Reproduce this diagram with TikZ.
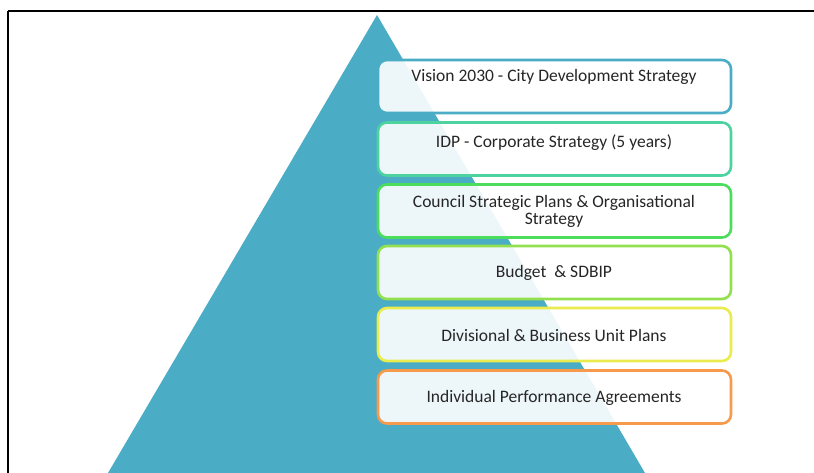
\documentclass[tikz,border=0pt]{standalone}
\usepackage{fontspec}
\setmainfont{Carlito}
\definecolor{teal}{HTML}{4BACC6}
\definecolor{c1}{HTML}{4BACC6}
\definecolor{c2}{HTML}{4DD3A0}
\definecolor{c3}{HTML}{4CDD5C}
\definecolor{c4}{HTML}{92E050}
\definecolor{c5}{HTML}{E9EC4C}
\definecolor{c6}{HTML}{F79A4C}
\definecolor{txt}{HTML}{262626}
\begin{document}
\begin{tikzpicture}[x=1pt,y=-1pt,
  tierbox/.style={draw=#1, line width=2.6pt, rounded corners=9pt, fill=white, fill opacity=0.9,
    minimum width=353pt, minimum height=53pt, inner sep=0pt},
  tiertext/.style={text=txt, font=\fontsize{17.5}{17}\selectfont, align=center, inner sep=0pt}]
\useasboundingbox (0,0) rectangle (814,473);
\begin{scope}
\clip (0,0) rectangle (814,473);
\draw[line width=2pt] (8,11) -- (820,11);
\draw[line width=2pt] (8,11) -- (8,480);
\fill[teal] (377,15) -- (645,473) -- (108,473) -- cycle;
\end{scope}
\node[tierbox=c1] (b1) at (554.5,86.5) {};
\node[tierbox=c2] (b2) at (554.5,149) {};
\node[tierbox=c3] (b3) at (554.5,211) {};
\node[tierbox=c4] (b4) at (554.5,272.5) {};
\node[tierbox=c5] (b5) at (554.5,334.5) {};
\node[tierbox=c6] (b6) at (554.5,397) {};
\node[tiertext] (t1) at (554,76.5) {Vision 2030 - City Development Strategy};
\node[tiertext] (t2) at (554,142.5) {IDP - Corporate Strategy (5 years)};
\node[tiertext] (t3) at (554,211.5) {Council Strategic Plans \& Organisational\\Strategy};
\node[tiertext] (t4) at (554,272.5) {Budget\ \ \& SDBIP};
\node[tiertext] (t5) at (554,335.5) {Divisional \& Business Unit Plans};
\node[tiertext] (t6) at (554,397.5) {Individual Performance Agreements};
\end{tikzpicture}
\end{document}
